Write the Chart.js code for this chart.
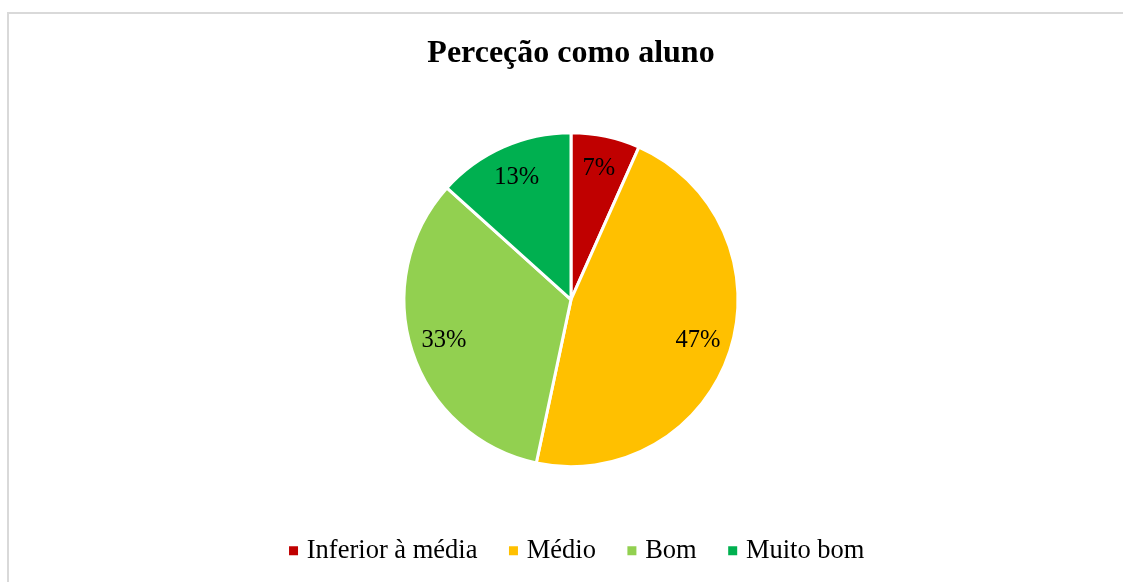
<!DOCTYPE html>
<html>
<head>
<meta charset="utf-8">
<script src="https://cdn.jsdelivr.net/npm/chart.js@4.4.1/dist/chart.umd.min.js"></script>
<style>
  html, body { margin: 0; padding: 0; background: #fff; overflow: hidden; width: 1123px; height: 582px; }
  #box { position: absolute; left: 7px; top: 12px; width: 1124px; height: 590px; border: 2px solid #d9d9d9; background: #fff; }
  #c { display: block; }
</style>
</head>
<body>
<div id="box"><canvas id="c" width="1124" height="560"></canvas></div>
<script>
const chartTitle = 'Perceção como aluno';
const categories = ['Inferior à média', 'Médio', 'Bom', 'Muito bom'];
const counts = [2, 14, 10, 4];
const colors = ['#C00000', '#FFC000', '#92D050', '#00B050'];

const FONT = "'Liberation Serif', 'Times New Roman', serif";

const pctLabels = {
  id: 'pctLabels',
  afterDatasetsDraw(chart) {
    const ctx = chart.ctx;
    const meta = chart.getDatasetMeta(0);
    const data = chart.data.datasets[0].data;
    const total = data.reduce((a, b) => a + b, 0);
    ctx.save();
    ctx.font = '24.5px ' + FONT;
    ctx.fillStyle = '#000';
    ctx.textAlign = 'center';
    ctx.textBaseline = 'middle';
    meta.data.forEach((arc, i) => {
      const p = arc.getProps(['x', 'y', 'startAngle', 'endAngle', 'outerRadius'], true);
      const mid = (p.startAngle + p.endAngle) / 2;
      const r = p.outerRadius * 0.80;
      const txt = Math.round(data[i] / total * 100) + '%';
      ctx.fillText(txt, p.x + Math.cos(mid) * r, p.y + Math.sin(mid) * r);
    });
    ctx.restore();
  }
};

// shift the centred legend row slightly right, as in the original
const legendShift = {
  id: 'legendShift',
  afterLayout(chart) {
    if (chart.legend) chart.legend.left += 16;
  }
};

const baseGen = Chart.overrides.pie.plugins.legend.labels.generateLabels;

new Chart(document.getElementById('c'), {
  type: 'pie',
  data: {
    labels: categories,
    datasets: [{
      data: counts,
      backgroundColor: colors,
      borderColor: '#ffffff',
      borderWidth: 3,
      radius: 167
    }]
  },
  options: {
    responsive: false,
    animation: false,
    devicePixelRatio: 1,
    events: [],
    layout: { padding: 0 },
    plugins: {
      tooltip: { enabled: false },
      title: {
        display: true,
        text: chartTitle,
        color: '#000',
        font: { family: FONT, size: 32, weight: 'bold' },
        padding: { top: 21, bottom: 24.35 }
      },
      legend: {
        position: 'bottom',
        labels: {
          color: '#000',
          font: { family: FONT, size: 26.5 },
          usePointStyle: true,
          pointStyle: 'rect',
          boxWidth: 0.001,
          boxHeight: 9,
          padding: 36,
          generateLabels(chart) {
            return baseGen(chart).map(l => Object.assign(l, { lineWidth: 0, pointStyle: 'rect', strokeStyle: l.fillStyle }));
          }
        }
      }
    }
  },
  plugins: [pctLabels, legendShift]
});
</script>
</body>
</html>
